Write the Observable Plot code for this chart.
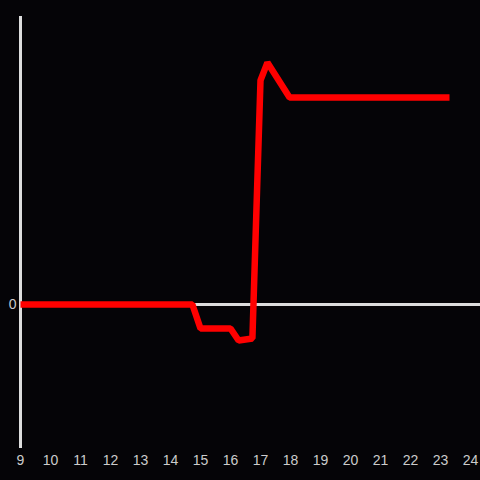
<!DOCTYPE html>
<html>
<head>
<meta charset="utf-8">
<script src="https://cdn.jsdelivr.net/npm/d3@7"></script>
<script src="https://cdn.jsdelivr.net/npm/@observablehq/plot@0.6"></script>
<style>
  html, body { margin: 0; padding: 0; background: #050407; }
  #chart svg { display: block; }
</style>
</head>
<body>
<div id="chart"></div>
<script>
const hours = [9, 14.73, 15.0, 16.0, 16.27, 16.73, 17.0, 17.23, 17.97, 23.3];
const values = [0, 0, -16.7, -16.7, -25, -23.6, 155.6, 168, 143.8, 143.8];
const xTicks = [9, 10, 11, 12, 13, 14, 15, 16, 17, 18, 19, 20, 21, 22, 23, 24];
const yTicks = [0];

const data = hours.map((h, i) => ({hour: h, value: values[i]}));

const chart = Plot.plot({
  width: 480,
  height: 480,
  marginLeft: 20,
  marginRight: 0,
  marginTop: 16,
  marginBottom: 32,
  style: {background: "#050407", color: "#cccccc", fontFamily: "Liberation Sans, Arial, sans-serif", fontSize: "14px"},
  x: {domain: [9, 24], range: [20, 470]},
  y: {domain: [-100, 200]},
  marks: [
    Plot.ruleY([0], {stroke: "#dddddd", strokeWidth: 3}),
    Plot.ruleX([9], {stroke: "#dddddd", strokeWidth: 3}),
    Plot.axisX({ticks: xTicks, tickSize: 0, tickPadding: 7, label: null, fill: "#cccccc", fontSize: 14}),
    Plot.axisY({ticks: yTicks, tickSize: 0, tickPadding: 4, label: null, fill: "#cccccc", fontSize: 14}),
    Plot.line(data, {x: "hour", y: "value", stroke: "#ff0000", strokeWidth: 6.5, strokeLinejoin: "miter", strokeLinecap: "butt"})
  ]
});
document.getElementById("chart").appendChild(chart);
</script>
</body>
</html>
